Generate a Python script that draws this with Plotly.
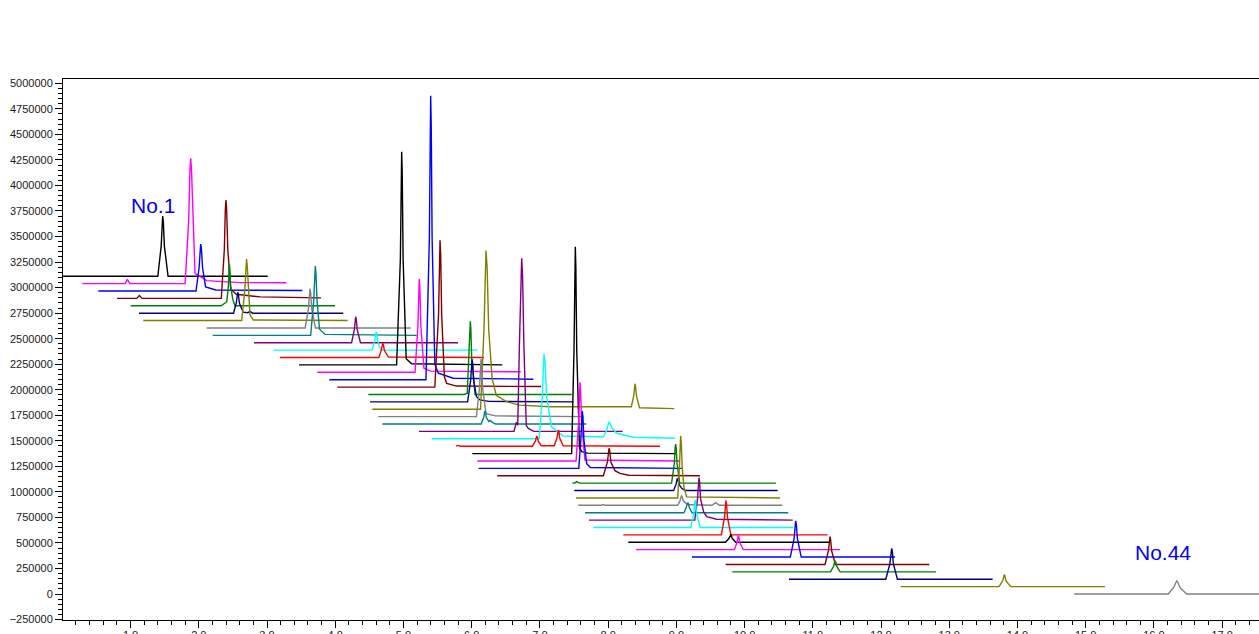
import plotly.graph_objects as go

# Trace colours (cycle of 12, as in the reference)
COLORS = ["#000000", "#FF00FF", "#0000FF", "#800000", "#008000", "#000080",
          "#808000", "#808080", "#008080", "#800080", "#00FFFF", "#FF0000"]
OFFSET_STEP = 72350   # vertical stacking offset between chromatograms

# Chromatograms No.1 ... No.44 : retention time (min) / intensity above own baseline
t01 = [0.00, 1.40, 1.449, 1.462, 1.471, 1.481, 1.496, 1.55, 3.01]
s01 = [0, 0, 295000, 530000, 589000, 530000, 295000, 0, 0]
t02 = [0.293, 0.92, 0.953, 0.99, 1.80, 1.852, 1.870, 1.882, 1.894, 1.915, 1.945, 2.116, 2.6, 3.283]
s02 = [0, 0, 42000, 0, 0, 614000, 1104000, 1227000, 1104000, 614000, 100000, 29000, 10000, 8000]
t03 = [0.528, 1.96, 2.005, 2.019, 2.028, 2.039, 2.055, 2.10, 2.25, 3.518]
s03 = [0, 0, 230000, 414000, 460000, 414000, 230000, 40000, 10000, 5000]
t04 = [0.802, 1.09, 1.129, 1.17, 2.33, 2.375, 2.389, 2.399, 2.409, 2.425, 2.47, 2.55, 2.9, 3.792]
s04 = [0, 0, 29000, 0, 0, 480000, 867000, 963000, 867000, 480000, 90000, 40000, 15000, 5000]
t05 = [1.002, 2.33, 2.41, 2.435, 2.443, 2.448, 2.455, 2.465, 2.50, 2.53, 3.997]
s05 = [0, 0, 40000, 200000, 365000, 406000, 365000, 200000, 60000, 0, 0]
t06 = [1.124, 2.51, 2.55, 2.563, 2.571, 2.581, 2.595, 2.65, 2.72, 2.751, 2.79, 4.118]
s06 = [0, 0, 100000, 185000, 205000, 185000, 100000, 10000, 5000, 18000, 0, 0]
t07 = [1.187, 2.63, 2.675, 2.69, 2.70, 2.71, 2.725, 2.751, 2.80, 4.183]
s07 = [0, 0, 300000, 542000, 602000, 542000, 300000, 55000, 5000, 0]
t08 = [2.116, 3.56, 3.607, 3.621, 3.630, 3.640, 3.655, 3.71, 5.106]
s08 = [0, 0, 190000, 346000, 384000, 346000, 190000, 0, 0]
t09 = [2.204, 3.64, 3.685, 3.699, 3.708, 3.718, 3.733, 3.77, 3.85, 5.194]
s09 = [0, 0, 340000, 610000, 678000, 610000, 340000, 60000, 10000, 0]
t10 = [2.810, 4.24, 4.28, 4.292, 4.300, 4.309, 4.322, 4.37, 5.80]
s10 = [0, 0, 128000, 230000, 255000, 230000, 128000, 0, 0]
t11 = [3.092, 4.54, 4.578, 4.590, 4.598, 4.607, 4.62, 4.67, 6.085]
s11 = [0, 0, 90000, 162000, 180000, 162000, 90000, 0, 0]
t12 = [3.191, 4.64, 4.675, 4.688, 4.696, 4.706, 4.72, 4.78, 6.18]
s12 = [0, 0, 70000, 125000, 139000, 125000, 70000, 5000, 0]
t13 = [3.469, 4.90, 4.955, 4.966, 4.974, 4.982, 4.995, 5.04, 5.12, 6.449]
s13 = [0, 0, 1040000, 1878000, 2087000, 1878000, 1040000, 60000, 12000, 0]
t14 = [3.737, 5.17, 5.212, 5.224, 5.232, 5.241, 5.255, 5.30, 5.40, 6.72]
s14 = [0, 0, 456000, 822000, 913000, 822000, 456000, 40000, 12000, 5000]
t15 = [3.913, 5.33, 5.38, 5.391, 5.399, 5.407, 5.42, 5.46, 5.511, 5.73, 6.903]
s15 = [0, 0, 1390000, 2502000, 2780000, 2502000, 1390000, 150000, 63000, 14000, 5000]
t16 = [4.031, 5.46, 5.515, 5.528, 5.536, 5.546, 5.56, 5.60, 5.634, 5.78, 7.016]
s16 = [0, 0, 718000, 1293000, 1437000, 1293000, 718000, 100000, 37000, 10000, 5000]
t17 = [4.485, 5.89, 5.935, 5.96, 5.972, 5.980, 5.988, 6.0, 6.05, 7.466]
s17 = [0, 0, 12000, 358000, 645000, 717000, 645000, 358000, 0, 0]
t18 = [4.510, 5.94, 5.985, 5.997, 6.005, 6.015, 6.03, 6.07, 6.122, 6.25, 7.489]
s18 = [0, 0, 208000, 374000, 415000, 374000, 208000, 50000, 19000, 5000, 0]
t19 = [4.543, 6.13, 6.18, 6.198, 6.210, 6.226, 6.25, 6.30, 6.36, 6.51, 6.70, 7.15, 8.30,
       8.34, 8.375, 8.386, 8.394, 8.402, 8.415, 8.46, 8.97]
s19 = [0, 0, 776000, 1398000, 1553000, 1398000, 776000, 300000, 137000, 74000, 40000, 25000, 25000,
       25000, 130000, 225000, 250000, 225000, 130000, 15000, 6000]
t20 = [4.631, 6.07, 6.115, 6.128, 6.137, 6.146, 6.16, 6.21, 6.35, 7.64]
s20 = [0, 0, 282000, 508000, 565000, 508000, 282000, 30000, 8000, 0]
t21 = [4.690, 6.14, 6.175, 6.187, 6.195, 6.203, 6.215, 6.25, 6.27, 6.31, 6.35, 7.68]
s21 = [0, 0, 64000, 115000, 128000, 115000, 64000, 25000, 35000, 14000, 0, 0]
t22 = [5.228, 6.62, 6.655, 6.675, 6.70, 6.72, 6.733, 6.746, 6.765, 6.80, 6.83, 6.91, 8.213]
s22 = [0, 0, 90000, 60000, 850000, 1525000, 1695000, 1525000, 850000, 60000, 30000, 0, 0]
t23 = [5.414, 6.99, 7.035, 7.05, 7.060, 7.075, 7.10, 7.17, 7.34, 7.93, 7.98, 8.005, 8.017,
       8.03, 8.05, 8.126, 8.37, 8.98]
s23 = [0, 0, 415000, 747000, 830000, 747000, 411000, 118000, 27000, 20000, 85000, 150000, 167000,
       150000, 110000, 54000, 15000, 5000]
t24 = [5.770, 5.80, 5.83, 5.86, 6.89, 6.935, 6.946, 6.953, 6.962, 6.975, 7.02, 7.21, 7.25,
       7.262, 7.270, 7.278, 7.29, 7.34, 8.76]
s24 = [0, 8000, 0, 0, 0, 50000, 90000, 100000, 90000, 50000, 5000, 5000, 80000,
       143000, 159000, 143000, 80000, 5000, 0]
t25 = [6.009, 7.465, 7.50, 7.511, 7.519, 7.527, 7.54, 7.58, 7.612, 7.70, 9.005]
s25 = [0, 0, 1013000, 1823000, 2026000, 1823000, 1013000, 60000, 19000, 5000, 0]
t26 = [6.082, 7.53, 7.568, 7.580, 7.588, 7.597, 7.61, 7.66, 9.053]
s26 = [0, 0, 385000, 693000, 770000, 693000, 385000, 10000, 0]
t27 = [6.103, 7.57, 7.60, 7.613, 7.621, 7.631, 7.645, 7.686, 7.74, 9.078]
s27 = [0, 0, 281000, 506000, 562000, 506000, 281000, 46000, 8000, 0]
t28 = [6.375, 7.93, 7.99, 8.004, 8.013, 8.024, 8.04, 8.10, 8.174, 8.30, 9.346]
s28 = [0, 0, 135000, 242000, 269000, 242000, 135000, 50000, 24000, 5000, 0]
t29 = [7.475, 7.51, 7.54, 7.58, 8.93, 8.97, 8.982, 8.990, 8.998, 9.01, 9.05, 10.460]
s29 = [0, 0, 15000, 0, 0, 191000, 344000, 382000, 344000, 191000, 0, 0]
t30 = [7.504, 8.96, 8.995, 9.006, 9.014, 9.024, 9.04, 9.078, 9.13, 10.485]
s30 = [0, 0, 60000, 108000, 120000, 108000, 60000, 22000, 0, 0]
t31 = [7.529, 9.02, 9.045, 9.056, 9.063, 9.072, 9.085, 9.11, 9.15, 10.519]
s31 = [0, 0, 305000, 548000, 609000, 548000, 305000, 110000, 10000, 0]
t32 = [7.563, 7.90, 7.93, 7.96, 9.02, 9.055, 9.069, 9.078, 9.087, 9.10, 9.15, 9.20, 9.52,
       9.576, 9.63, 10.553]
s32 = [0, 0, 8000, 0, 0, 46000, 83000, 92000, 83000, 46000, 15000, 5000, 0,
       26000, 0, 0]
t33 = [7.661, 9.11, 9.145, 9.158, 9.166, 9.176, 9.19, 9.23, 10.640]
s33 = [0, 0, 50000, 89000, 99000, 89000, 50000, 0, 0]
t34 = [7.720, 9.27, 9.31, 9.323, 9.332, 9.341, 9.355, 9.40, 9.445, 9.59, 10.705]
s34 = [0, 0, 208000, 374000, 415000, 374000, 208000, 80000, 34000, 8000, 0]
t35 = [7.782, 9.21, 9.255, 9.266, 9.273, 9.282, 9.295, 9.35, 10.714]
s35 = [0, 0, 135000, 243000, 270000, 243000, 135000, 0, 0]
t36 = [8.222, 9.66, 9.705, 9.718, 9.727, 9.736, 9.75, 9.80, 11.218]
s36 = [0, 0, 168000, 302000, 336000, 302000, 168000, 0, 0]
t37 = [8.295, 9.72, 9.77, 9.786, 9.796, 9.806, 9.82, 9.87, 11.252]
s37 = [0, 0, 36000, 65000, 72000, 65000, 36000, 0, 0]
t38 = [8.408, 9.85, 9.89, 9.901, 9.908, 9.917, 9.93, 9.98, 11.398]
s38 = [0, 0, 69000, 124000, 138000, 124000, 69000, 0, 0]
t39 = [9.229, 10.67, 10.725, 10.739, 10.749, 10.759, 10.775, 10.83, 12.204]
s39 = [0, 0, 177000, 319000, 354000, 319000, 177000, 0, 0]
t40 = [9.723, 11.18, 11.23, 11.243, 11.252, 11.261, 11.275, 11.33, 12.707]
s40 = [0, 0, 137000, 246000, 273000, 246000, 137000, 0, 0]
t41 = [9.820, 11.26, 11.305, 11.317, 11.325, 11.335, 11.35, 11.40, 12.806]
s41 = [0, 0, 55000, 99000, 110000, 99000, 55000, 0, 0]
t42 = [10.651, 12.07, 12.13, 12.146, 12.156, 12.166, 12.18, 12.24, 13.636]
s42 = [0, 0, 152000, 273000, 303000, 273000, 152000, 0, 0]
t43 = [12.288, 13.73, 13.785, 13.797, 13.806, 13.816, 13.83, 13.90, 15.282]
s43 = [0, 0, 59000, 105000, 117000, 105000, 59000, 0, 0]
t44 = [14.832, 16.21, 16.29, 16.316, 16.333, 16.352, 16.38, 16.48, 17.83]
s44 = [0, 0, 64000, 115000, 128000, 115000, 64000, 0, 0]

SERIES = [(t01, s01), (t02, s02), (t03, s03), (t04, s04), (t05, s05), (t06, s06),
          (t07, s07), (t08, s08), (t09, s09), (t10, s10), (t11, s11), (t12, s12),
          (t13, s13), (t14, s14), (t15, s15), (t16, s16), (t17, s17), (t18, s18),
          (t19, s19), (t20, s20), (t21, s21), (t22, s22), (t23, s23), (t24, s24),
          (t25, s25), (t26, s26), (t27, s27), (t28, s28), (t29, s29), (t30, s30),
          (t31, s31), (t32, s32), (t33, s33), (t34, s34), (t35, s35), (t36, s36),
          (t37, s37), (t38, s38), (t39, s39), (t40, s40), (t41, s41), (t42, s42),
          (t43, s43), (t44, s44)]

LABELS = ["No.1", "No.44"]
LABEL_X = [1.33, 16.13]
LABEL_Y = [3800000, 405000]

X_TICKS = [1.0, 2.0, 3.0, 4.0, 5.0, 6.0, 7.0, 8.0, 9.0, 10.0, 11.0, 12.0, 13.0, 14.0, 15.0, 16.0, 17.0]

FONT = "Liberation Sans, Arial, sans-serif"

fig = go.Figure()
n = len(SERIES)
for i, (t, s) in enumerate(SERIES):
    off = (n - 1 - i) * OFFSET_STEP
    fig.add_trace(go.Scatter(
        x=t, y=[v + off for v in s], mode="lines",
        line=dict(color=COLORS[i % len(COLORS)], width=1.4),
        hoverinfo="skip", showlegend=False))

for txt, lx, ly in zip(LABELS, LABEL_X, LABEL_Y):
    fig.add_annotation(x=lx, y=ly, text=txt, showarrow=False,
                       xanchor="center", yanchor="middle",
                       font=dict(family=FONT, size=21, color="#0000FF"))

fig.update_layout(
    template="none",
    width=1259, height=634,
    margin=dict(l=63, r=0, t=79, b=14, pad=0),
    paper_bgcolor="white", plot_bgcolor="white",
    showlegend=False,
    xaxis=dict(
        range=[0.01, 17.54], automargin=False,
        showgrid=False, zeroline=False,
        showline=True, linecolor="black", linewidth=1, mirror=True,
        ticks="outside", ticklen=7, tickwidth=1, tickcolor="black",
        tickvals=X_TICKS, ticktext=["%.1f" % v for v in X_TICKS],
        ticklabelstandoff=-2,
        tickfont=dict(family=FONT, size=11, color="#1a1a1a"),
        minor=dict(ticks="outside", ticklen=4, tickwidth=1, tickcolor="black",
                   dtick=0.2, tick0=0, showgrid=False),
    ),
    yaxis=dict(
        range=[-254500, 5042000], automargin=False,
        showgrid=False, zeroline=False,
        showline=True, linecolor="black", linewidth=1, mirror=True,
        ticks="outside", ticklen=7, tickwidth=1, tickcolor="black",
        dtick=250000, tick0=0, tickformat="d",
        tickfont=dict(family=FONT, size=11, color="#1a1a1a"),
        minor=dict(ticks="outside", ticklen=4, tickwidth=1, tickcolor="black",
                   dtick=50000, tick0=0, showgrid=False),
    ),
)

fig.write_html("out.html")
